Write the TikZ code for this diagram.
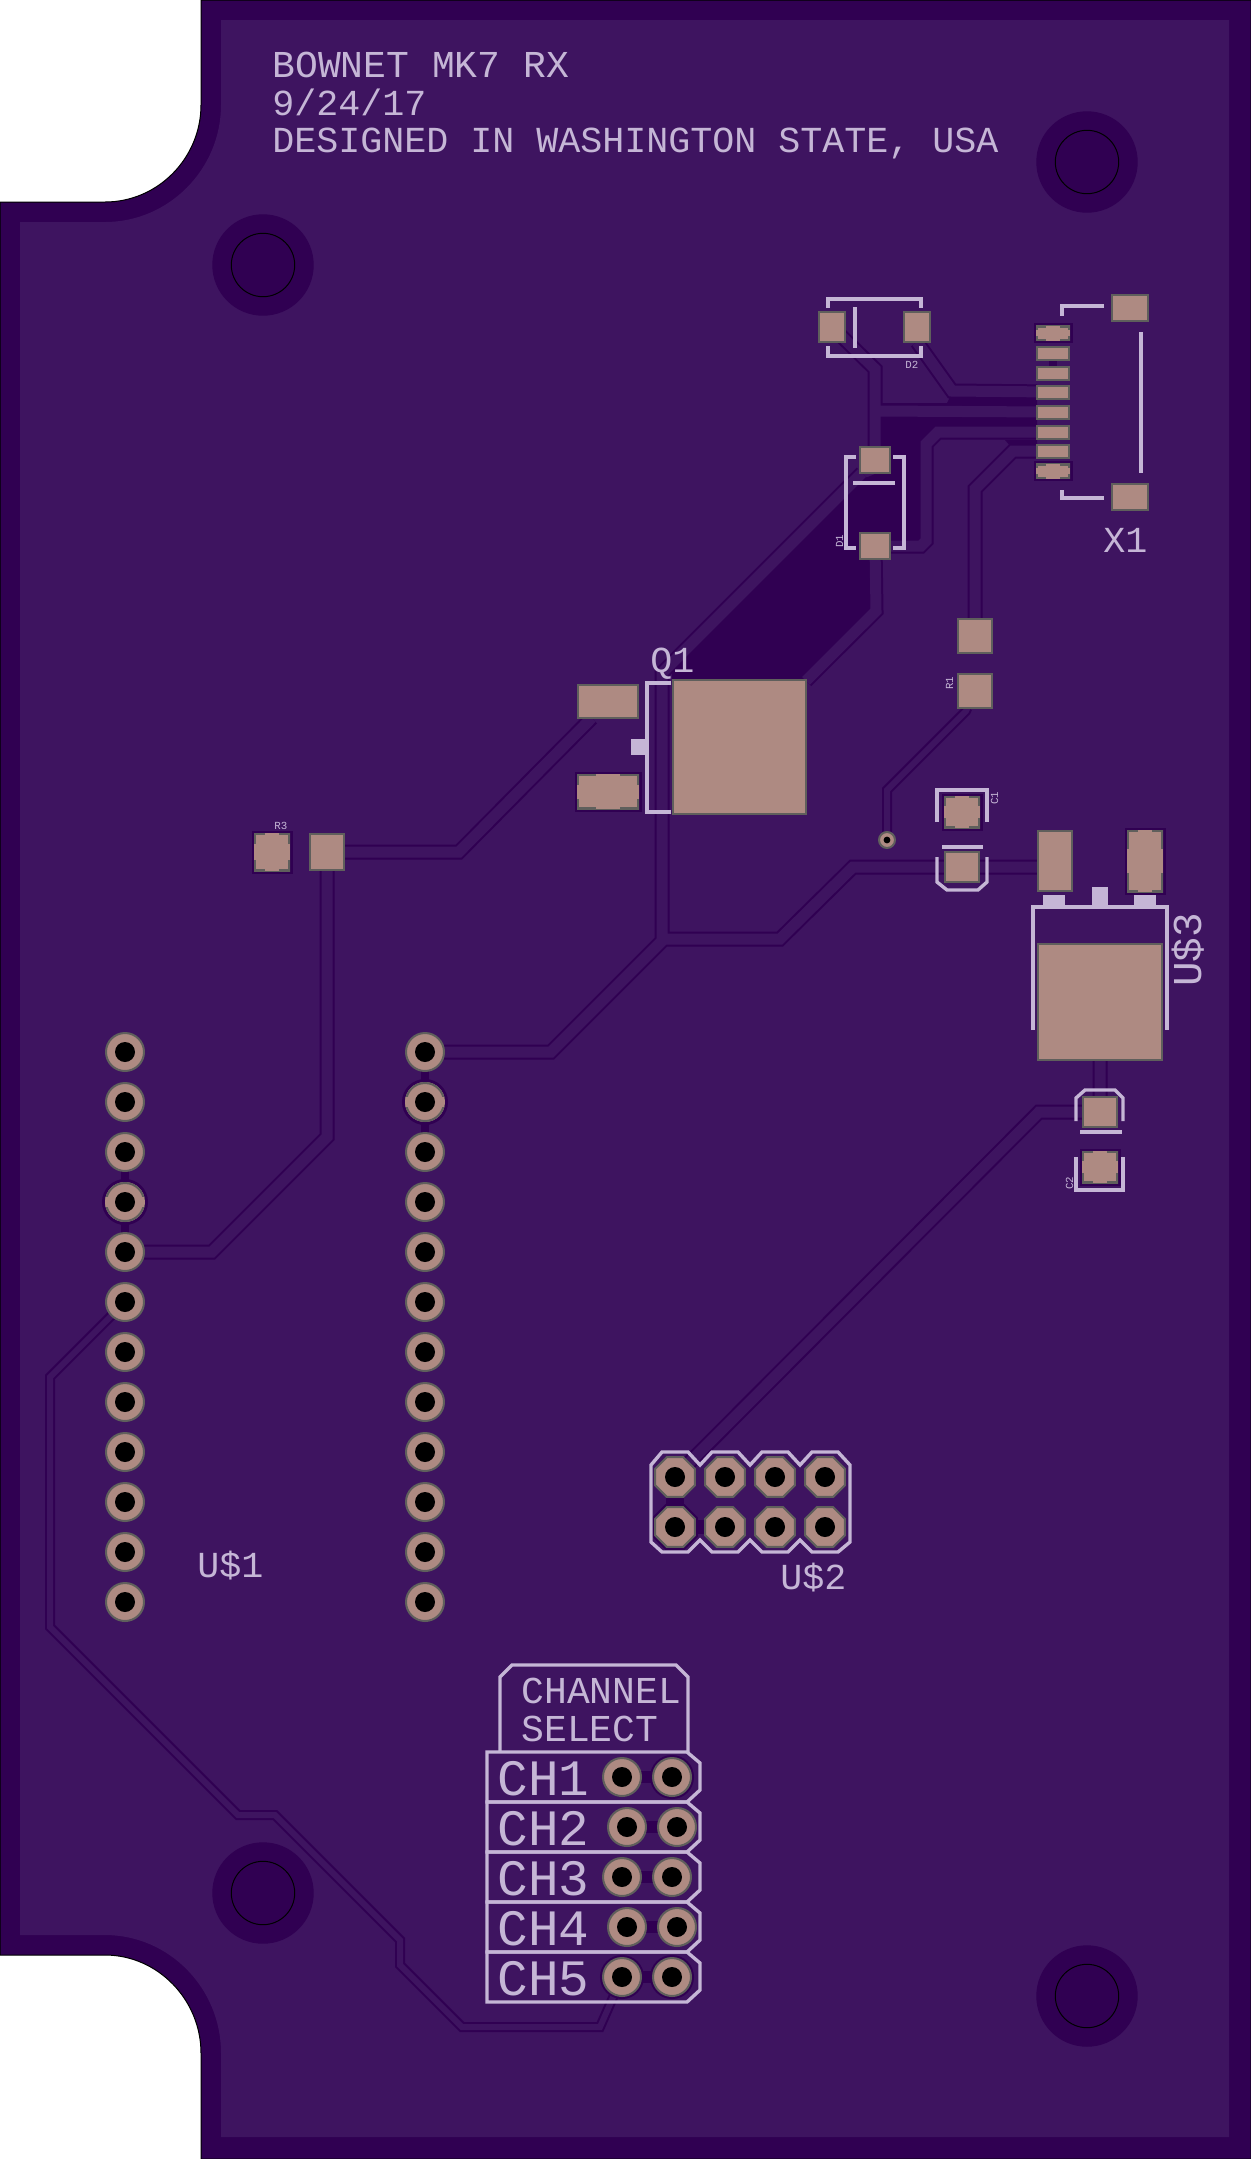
\documentclass[tikz,border=0pt]{standalone}
\usepackage{fontspec}
\usepackage{tikz}
\usetikzlibrary{positioning,calc,backgrounds,shapes.geometric}
\newfontfamily\silkfont{Liberation Mono}
\definecolor{boardlt}{HTML}{3E1460}
\definecolor{boarddk}{HTML}{300052}
\definecolor{silkcol}{HTML}{C5B6D6}
\definecolor{padfill}{HTML}{AE8A82}
\definecolor{padedge}{HTML}{5F5F5C}
\tikzset{
    pad/.style={
        rectangle,
        fill=padfill,
        draw=padedge,
        line width=1pt,
        inner sep=0pt,
        outer sep=0pt,
    },
    thermal/.style={
        draw=none,
        preaction={draw=boarddk,line width=2.5pt},
        path picture={
            \draw [padedge,line width=2pt] (path picture bounding box.south west) rectangle (path picture bounding box.north east);
            \fill [padfill] ($(path picture bounding box.south west)!.3!(path picture bounding box.south east)$) rectangle ($(path picture bounding box.north west)!.7!(path picture bounding box.north east)$);
            \fill [padfill] ($(path picture bounding box.south west)!.3!(path picture bounding box.north west)$) rectangle ($(path picture bounding box.south east)!.7!(path picture bounding box.north east)$);
        },
    },
    haloed/.style={
        preaction={draw=boarddk,line width=3pt},
    },
    pin/.style={
        circle,
        fill=padfill,
        draw=padedge,
        line width=1pt,
        inner sep=0pt,
        outer sep=0pt,
        minimum size=19pt,
        path picture={\fill[black] (path picture bounding box.center) circle (5pt);},
    },
    gndpin/.style={
        pin,
        draw=none,
        minimum size=20pt,
        preaction={draw=boarddk,line width=3pt},
        path picture={
            \draw [padedge,line width=2pt] (path picture bounding box.center) circle (10pt);
            \fill [padfill] ($(path picture bounding box.center)+(-10pt,-2.5pt)$) rectangle ($(path picture bounding box.center)+(10pt,2.5pt)$);
            \fill [black] (path picture bounding box.center) circle (5pt);
        },
    },
    octpin/.style={
        pin,
        regular polygon,
        regular polygon sides=8,
        minimum size=21.5pt,
    },
    viapin/.style={
        pin,
        minimum size=8pt,
        path picture={\fill[black] (path picture bounding box.center) circle (1.7pt);},
    },
    mount/.style={
        circle,
        fill=boarddk,
        draw=black,
        line width=0.5pt,
        inner sep=0pt,
        minimum size=31.7pt,
        preaction={draw=boarddk,line width=19pt},
    },
    trace/.style={
        draw=boarddk,
        double=boardlt,
        line width=1pt,
        double distance=5.5pt,
    },
    thintrace/.style={
        trace,
        double distance=3pt,
    },
    bridge/.style={
        draw=boarddk,
        line width=4pt,
    },
    silk/.style={
        draw=silkcol,
        line width=1.7pt,
    },
    silktext/.style={
        font=\silkfont\fontsize{18.33pt}{20pt}\selectfont,
        text=silkcol,
        inner sep=0pt,
        anchor=base west,
    },
    silkwide/.style={
        silktext,
        font=\silkfont\fontsize{19pt}{20pt}\selectfont,
    },
    silkbig/.style={
        silktext,
        font=\silkfont\fontsize{25.5pt}{27pt}\selectfont,
    },
    silktiny/.style={
        silktext,
        font=\silkfont\fontsize{5.4pt}{6pt}\selectfont,
    },
}
\begin{document}
\begin{tikzpicture}[x=0.5pt,y=-0.5pt,node distance=25pt]
	\useasboundingbox (0,0) rectangle (1251,2159);
	% X1 connector
	\node [pad,thermal,minimum width=17pt,minimum height=7.5pt] (x1p1) at (1053,333) {};
	\node [pad,minimum width=16pt,minimum height=6.5pt] (x1p2) at (1053,353) {};
	\node [pad,minimum width=16pt,minimum height=6.5pt] (x1p3) at (1053,373) {};
	\node [pad,minimum width=16pt,minimum height=6.5pt] (x1p4) at (1053,392) {};
	\node [pad,minimum width=16pt,minimum height=6.5pt] (x1p5) at (1053,412) {};
	\node [pad,minimum width=16pt,minimum height=6.5pt] (x1p6) at (1053,432) {};
	\node [pad,minimum width=16pt,minimum height=6.5pt] (x1p7) at (1053,451) {};
	\node [pad,thermal,minimum width=17pt,minimum height=7.5pt] (x1p8) at (1053,471) {};
	\node [pad,minimum width=18pt,minimum height=13pt] (x1g1) at (1130,308) {};
	\node [pad,minimum width=18pt,minimum height=13pt] (x1g2) at (1130,497) {};
	% diodes
	\node [pad,minimum width=13pt,minimum height=15pt] (d2a) at (832,327) {};
	\node [pad,minimum width=13pt,minimum height=15pt] (d2k) at (917,327) {};
	\node [pad,minimum width=15pt,minimum height=13pt] (d1a) at (875,460) {};
	\node [pad,minimum width=15pt,minimum height=13pt] (d1k) at (875,546) {};
	% resistors
	\node [pad,minimum width=17pt,minimum height=17pt] (r1a) at (975,636) {};
	\node [pad,minimum width=17pt,minimum height=17pt] (r1b) at (975,691) {};
	\node [pad,thermal,minimum width=18pt,minimum height=19pt] (r3a) at (272,852) {};
	\node [pad,minimum width=17pt,minimum height=18pt] (r3b) at (327,852) {};
	% Q1
	\node [pad,minimum width=30pt,minimum height=16.5pt] (q1g) at (608,701.5) {};
	\node [pad,thermal,minimum width=31pt,minimum height=17.5pt] (q1s) at (608,791.5) {};
	\node [pad,minimum width=66.5pt,minimum height=67pt] (q1d) at (739.5,747) {};
	% U$3 and its capacitors
	\node [pad,minimum width=17pt,minimum height=30pt] (u3a) at (1055,861) {};
	\node [pad,thermal,minimum width=18pt,minimum height=31pt] (u3b) at (1145,861) {};
	\node [pad,minimum width=62pt,minimum height=58pt] (u3t) at (1100,1002) {};
	\node [pad,thermal,minimum width=18pt,minimum height=16pt] (c1a) at (962,812) {};
	\node [pad,minimum width=17pt,minimum height=15pt] (c1b) at (962,867) {};
	\node [pad,minimum width=17pt,minimum height=15pt] (c2a) at (1100,1112) {};
	\node [pad,thermal,minimum width=18pt,minimum height=16pt] (c2b) at (1100,1167) {};
	\node [viapin] (via) at (887,840) {};
	% U$1 left row
	\node [pin] (a1) at (125,1052) {};
	\node [pin] (a2) [below of=a1] {};
	\node [pin] (a3) [below of=a2] {};
	\node [gndpin] (a4) [below of=a3] {};
	\node [pin] (a5) [below of=a4] {};
	\node [pin] (a6) [below of=a5] {};
	\node [pin] (a7) [below of=a6] {};
	\node [pin] (a8) [below of=a7] {};
	\node [pin] (a9) [below of=a8] {};
	\node [pin] (a10) [below of=a9] {};
	\node [pin] (a11) [below of=a10] {};
	\node [pin] (a12) [below of=a11] {};
	% U$1 right row
	\node [pin] (b1) at (425,1052) {};
	\node [gndpin] (b2) [below of=b1] {};
	\node [pin] (b3) [below of=b2] {};
	\node [pin] (b4) [below of=b3] {};
	\node [pin] (b5) [below of=b4] {};
	\node [pin] (b6) [below of=b5] {};
	\node [pin] (b7) [below of=b6] {};
	\node [pin] (b8) [below of=b7] {};
	\node [pin] (b9) [below of=b8] {};
	\node [pin] (b10) [below of=b9] {};
	\node [pin] (b11) [below of=b10] {};
	\node [pin] (b12) [below of=b11] {};
	% U$2 header
	\node [octpin] (h1) at (675,1477) {};
	\node [octpin] (h2) [right of=h1] {};
	\node [octpin] (h3) [right of=h2] {};
	\node [octpin] (h4) [right of=h3] {};
	\node [octpin,haloed] (h5) [below of=h1] {};
	\node [octpin] (h6) [right of=h5] {};
	\node [octpin] (h7) [right of=h6] {};
	\node [octpin] (h8) [right of=h7] {};
	% channel select pins
	\node [pin] (ch1a) at (622,1777) {};
	\node [pin,haloed] (ch1b) [right of=ch1a] {};
	\node [pin] (ch2a) at (627,1827) {};
	\node [pin] (ch2b) [right of=ch2a] {};
	\node [pin] (ch3a) at (622,1877) {};
	\node [pin] (ch3b) [right of=ch3a] {};
	\node [pin] (ch4a) at (627,1927) {};
	\node [pin] (ch4b) [right of=ch4a] {};
	\node [pin,haloed] (ch5a) at (622,1977) {};
	\node [pin,haloed] (ch5b) [right of=ch5a] {};
	% mounting holes
	\node [mount] (m1) at (263,265) {};
	\node [mount] (m2) at (1087,162) {};
	\node [mount] (m3) at (263,1893) {};
	\node [mount] (m4) at (1087,1996) {};
	\begin{pgfonlayer}{background}
		% board
		\path [fill=boarddk,draw=black,line width=0.5pt] (201,0) -- (1251,0) -- (1251,2159) -- (201,2159) -- (201,2053)
			.. controls (201,2000) and (158,1955) .. (105,1955) -- (0,1955) -- (0,202) -- (105,202)
			.. controls (158,202) and (201,158) .. (201,105) -- cycle;
		\path [fill=boardlt] (221,20) -- (1229,20) -- (1229,2137) -- (221,2137) -- (221,2053)
			.. controls (221,1988) and (169,1935) .. (105,1935) -- (20,1935) -- (20,222) -- (105,222)
			.. controls (169,222) and (221,169) .. (221,105) -- cycle;
		% bare areas round the diodes
		\path [fill=boarddk] (672,670) -- (863,479) -- (875,474) -- (881,474) -- (881,416) -- (1037,416) -- (1037,427)
			-- (937,427) -- (920,443) -- (920,540) -- (891,540) -- (891,559) -- (870,559) -- (870,608) -- (803,680) -- (672,680) -- cycle;
		\path [fill=boarddk] (880,403) -- (947,403) -- (950,397) -- (1037,397) -- (1037,406) -- (880,406) -- cycle;
		\path [fill=boarddk] (1005,440) -- (1037,440) -- (1037,447) -- (1011,447) -- cycle;
		% clearance between neighbouring pads
		\draw [bridge] (a3) -- (a4);
		\draw [bridge] (a4) -- (a5);
		\draw [bridge] (b1) -- (b2);
		\draw [bridge] (b2) -- (b3);
		\draw [bridge] (x1p2) -- (x1p3);
		\draw [bridge,line width=9pt] (h1) -- (h5);
		\draw [bridge,line width=7pt] (h5) -- (h6);
		\draw [bridge,line width=6pt] (ch1a) -- (ch1b);
		\draw [bridge,line width=6pt] (ch2a) -- (ch2b);
		\draw [bridge,line width=6pt] (ch3a) -- (ch3b);
		\draw [bridge,line width=6pt] (ch4a) -- (ch4b);
		\draw [bridge,line width=6pt] (ch5a) -- (ch5b);
		% traces
		\draw [trace] (d2a.center) -- (875,369) -- (d1a)
			(875,411) -- (x1p5)
			(d2k.south) -- (952,391) -- (x1p4)
			(x1p6) -- (938,432) -- (926,444) -- (926,541) -- (921,546) -- (d1k)
			(x1p7) -- (1013,451) -- (975,489) -- (r1a)
			(d1a) -- (662,673) -- (662,941) -- (551,1052) -- (b1)
			(662,939) -- (780,939) -- (853,867) -- (c1b)
			(c1b.east) -- (c1b.east -| u3a.west)
			(d1k) -- (876,611) -- (q1d)
			(q1g) -- (459,852) -- (r3b)
			(r3b) -- (327,1137) -- (212,1252) -- (a5)
			(u3t) -- (c2a)
			(c2a) -- (1039,1112) -- (h1);
		\draw [thintrace] (a6) -- (50,1377) -- (50,1627) -- (238,1815) -- (275,1815) -- (400,1940) -- (400,1965) -- (462,2027) -- (600,2027) -- (ch5a);
		\draw [thintrace] (r1b) -- (966,711) -- (887,790) -- (via);
	\end{pgfonlayer}
	% silkscreen
	\draw [silk] (828,308) -- (828,299) -- (921,299) -- (921,308);
	\draw [silk] (828,346) -- (828,356) -- (921,356) -- (921,346);
	\draw [silk] (855,307) -- (855,348);
	\draw [silk] (856,457) -- (846,457) -- (846,548) -- (856,548);
	\draw [silk] (893,457) -- (904,457) -- (904,548) -- (893,548);
	\draw [silk] (853,483) -- (895,483);
	\draw [silk] (1104,306) -- (1062,306) -- (1062,316);
	\draw [silk] (1104,498) -- (1062,498) -- (1062,490);
	\draw [silk] (1141,332) -- (1141,473);
	\draw [silk] (671,683) -- (647,683) -- (647,812) -- (671,812);
	\fill [silkcol] (631,739) rectangle (646,755);
	\draw [silk] (937,822) -- (937,790) -- (987,790) -- (987,822);
	\draw [silk] (942,847) -- (983,847);
	\draw [silk] (937,857) -- (937,882) -- (947,890) -- (978,890) -- (987,882) -- (987,857);
	\draw [silk] (1076,1121) -- (1076,1098) -- (1085,1090) -- (1115,1090) -- (1123,1098) -- (1123,1121);
	\draw [silk] (1080,1132) -- (1122,1132);
	\draw [silk] (1076,1157) -- (1076,1190) -- (1123,1190) -- (1123,1157);
	\draw [silk] (1033,1030) -- (1033,907) -- (1167,907) -- (1167,1030);
	\fill [silkcol] (1043,895) rectangle (1065,907);
	\fill [silkcol] (1092,887) rectangle (1108,907);
	\fill [silkcol] (1134,895) rectangle (1156,907);
	\draw [silk] (662,1452) -- (688,1452) -- (700,1465) -- (712,1452) -- (738,1452) -- (750,1465) -- (762,1452) -- (788,1452) -- (800,1465)
		-- (812,1452) -- (838,1452) -- (850,1465) -- (850,1542) -- (838,1552) -- (812,1552) -- (800,1540) -- (788,1552) -- (762,1552)
		-- (750,1540) -- (738,1552) -- (712,1552) -- (700,1540) -- (688,1552) -- (662,1552) -- (651,1542) -- (651,1465) -- cycle;
	\draw [silk] (500,1752) -- (500,1677) -- (512,1665) -- (676,1665) -- (688,1677) -- (688,1752);
	\draw [silk] (487,1752) -- (687,1752) -- (700,1763) -- (700,1790) -- (687,1802) -- (487,1802) -- cycle;
	\draw [silk] (487,1802) -- (687,1802) -- (700,1813) -- (700,1840) -- (687,1852) -- (487,1852) -- cycle;
	\draw [silk] (487,1852) -- (687,1852) -- (700,1863) -- (700,1890) -- (687,1902) -- (487,1902) -- cycle;
	\draw [silk] (487,1902) -- (687,1902) -- (700,1913) -- (700,1940) -- (687,1952) -- (487,1952) -- cycle;
	\draw [silk] (487,1952) -- (687,1952) -- (700,1963) -- (700,1990) -- (687,2002) -- (487,2002) -- cycle;
	% labels
	\node [silkwide] (title1) at (272,77) {BOWNET MK7 RX};
	\node [silktext] (title2) at (272,115) {9/24/17};
	\node [silktext] (title3) at (272,152) {DESIGNED IN WASHINGTON STATE, USA};
	\node [silktext] (x1label) at (1103,552) {X1};
	\node [silktext] (q1label) at (650,672) {Q1};
	\node [silktext] (u1label) at (197,1577) {U\$1};
	\node [silktext] (u2label) at (780,1589) {U\$2};
	\node [silktext,font=\silkfont\fontsize{20.5pt}{22pt}\selectfont,rotate=90] (u3label) at (1201,987) {U\$3};
	\node [silkwide] (chan) at (521,1703) {CHANNEL};
	\node [silkwide] (sel) at (521,1741) {SELECT};
	\node [silkbig] (ch1) at (497,1795) {CH1};
	\node [silkbig] (ch2) at (497,1845) {CH2};
	\node [silkbig] (ch3) at (497,1895) {CH3};
	\node [silkbig] (ch4) at (497,1945) {CH4};
	\node [silkbig] (ch5) at (497,1995) {CH5};
	\node [silktiny] (d2label) at (905,368) {D2};
	\node [silktiny,rotate=90] (d1label) at (843,548) {D1};
	\node [silktiny,rotate=90] (r1label) at (953,690) {R1};
	\node [silktiny] (r3label) at (274,829) {R3};
	\node [silktiny,rotate=90] (c1label) at (998,805) {C1};
	\node [silktiny,rotate=90] (c2label) at (1073,1190) {C2};
\end{tikzpicture}
\end{document}
